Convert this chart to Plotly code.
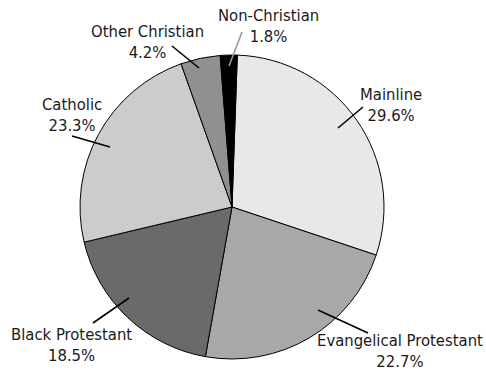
import plotly.graph_objects as go

# Religious tradition shares (percent)
groups = ["Mainline", "Evangelical Protestant", "Black Protestant",
          "Catholic", "Other Christian", "Non-Christian"]
shares = [29.6, 22.7, 18.5, 23.3, 4.2, 1.8]
fills = ["#e8e8e8", "#a8a8a8", "#6a6a6a", "#cccccc", "#909090", "#000000"]

W, H = 486, 371
CX, CY, R = 232, 207, 152  # pie centre and radius in pixels

def px(x):
    return x / W

def py(y):
    return 1 - y / H

fig = go.Figure(go.Pie(
    labels=groups,
    values=shares,
    sort=False,
    direction="clockwise",
    rotation=2,
    marker=dict(colors=fills, line=dict(color="#000000", width=1)),
    textinfo="none",
    hoverinfo="label+value",
    domain=dict(x=[px(CX - R), px(CX + R)], y=[py(CY + R), py(CY - R)]),
    showlegend=False,
))

# label layout: leader line (inner point, outer point), text centre, line colour
label_layout = {
    "Mainline": ((338, 128), (363, 107), (391, 105), "#000000"),
    "Evangelical Protestant": ((318, 310), (368, 333), (400, 351), "#000000"),
    "Black Protestant": ((129, 298), (93, 323), (71, 345), "#000000"),
    "Catholic": ((110, 147), (72, 136), (72, 115), "#000000"),
    "Other Christian": ((199, 68), (172, 46), (147, 42), "#000000"),
    "Non-Christian": ((229, 66), (242, 32), (268, 26), "#999999"),
}

shapes, annotations = [], []
for name, val in zip(groups, shares):
    (x0, y0), (x1, y1), (tx, ty), col = label_layout[name]
    shapes.append(dict(type="line", xref="paper", yref="paper",
                       x0=px(x0), y0=py(y0), x1=px(x1), y1=py(y1),
                       line=dict(color=col, width=1.6)))
    annotations.append(dict(xref="paper", yref="paper", x=px(tx), y=py(ty),
                            text=f"{name}<br>{val}%", showarrow=False,
                            xanchor="center", yanchor="middle", align="center",
                            font=dict(family="DejaVu Sans Condensed, Liberation Sans, sans-serif",
                                      size=16.5, color="#1a1a1a")))

fig.update_layout(
    width=W, height=H,
    margin=dict(l=0, r=0, t=0, b=0),
    paper_bgcolor="white", plot_bgcolor="white",
    shapes=shapes, annotations=annotations,
)

fig.write_html("out.html")
